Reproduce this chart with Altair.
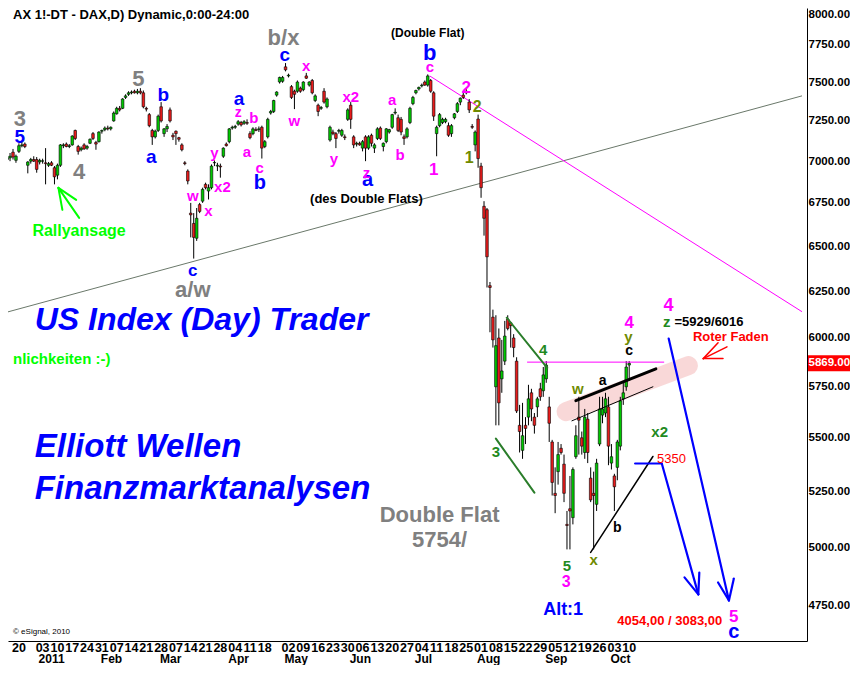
import altair as alt
import pandas as pd

FONT = "Liberation Sans"
START = -4  # first bar index (index 0 = 20 Dec 2010, trading-day index)

opens = [
    7010, 7020, 7055, 7005, 7060, 7095, 7105, 6975, 7000, 7010,
    7010, 6995, 7000, 6990, 6975, 6990, 6960, 6915, 6975, 7095,
    7105, 7090, 7100, 7190, 7090, 7070, 7100, 7080, 7110, 7170,
    7115, 7120, 7185, 7195, 7205, 7200, 7250, 7295, 7330, 7330,
    7400, 7420, 7430, 7440, 7430, 7440, 7430, 7330, 7290, 7190,
    7150, 7190, 7340, 7170, 7200, 7320, 7160, 7185, 7145, 7100,
    6990, 6940, 6690, 6630, 6545, 6740, 6760, 6860, 6820, 6840,
    6990, 6970, 6970, 7030, 7105, 7120, 7205, 7210, 7230, 7240,
    7235, 7240, 7170, 7170, 7195, 7195, 7210, 7090, 7150, 7300,
    7310, 7415, 7500, 7505, 7600, 7540, 7470, 7440, 7440, 7460,
    7450, 7540, 7480, 7510, 7380, 7350, 7330, 7440, 7340, 7130,
    7180, 7170, 7185, 7160, 7150, 7260, 7350, 7150, 7105, 7110,
    7080, 7150, 7080, 7160, 7080, 7140, 7205, 7090, 7120, 7180,
    7210, 7300, 7270, 7260, 7150, 7150, 7240, 7360, 7430, 7455,
    7475, 7500, 7480, 7510, 7430, 7170, 7220, 7240, 7245, 7220,
    7170, 7270, 7310, 7370, 7415, 7430, 7370, 7215, 7100, 7262,
    6970, 6730, 6710, 6280, 6110, 5750, 6000, 5790, 5880, 6100,
    6080, 6000, 5880, 5560, 5440, 5560, 5600, 5720, 5600, 5650,
    5740, 5730, 5790, 5650, 5480, 5240, 5340, 5450, 5375, 5100,
    5170, 5130, 5410, 5600, 5500, 5430, 5590, 5310, 5240, 5190,
    5470, 5610, 5620, 5650, 5380, 5320, 5360, 5460, 5690, 5750,
    5860,
]
highs = [
    7040, 7050, 7075, 7040, 7110, 7120, 7115, 7000, 7020, 7030,
    7025, 7015, 7015, 7080, 6995, 7000, 6970, 6985, 7105, 7110,
    7115, 7105, 7160, 7195, 7100, 7090, 7110, 7100, 7140, 7180,
    7125, 7185, 7195, 7215, 7220, 7215, 7310, 7340, 7345, 7395,
    7420, 7440, 7445, 7450, 7455, 7460, 7445, 7340, 7300, 7200,
    7195, 7290, 7370, 7205, 7230, 7335, 7175, 7190, 7150, 7110,
    7000, 6950, 6750, 6690, 6720, 6750, 6840, 6870, 6860, 6980,
    7005, 6990, 6985, 7085, 7115, 7205, 7220, 7225, 7255, 7250,
    7255, 7260, 7185, 7210, 7210, 7215, 7220, 7130, 7270, 7320,
    7385, 7440, 7535, 7540, 7625, 7555, 7480, 7450, 7510, 7470,
    7505, 7560, 7505, 7520, 7420, 7360, 7345, 7460, 7400, 7220,
    7195, 7180, 7200, 7200, 7165, 7330, 7370, 7160, 7120, 7120,
    7130, 7160, 7160, 7170, 7110, 7210, 7215, 7115, 7205, 7200,
    7295, 7330, 7290, 7275, 7165, 7210, 7340, 7410, 7450, 7470,
    7490, 7510, 7550, 7520, 7440, 7220, 7300, 7270, 7270, 7240,
    7230, 7300, 7370, 7400, 7440, 7460, 7390, 7230, 7190, 7290,
    6990, 6760, 6720, 6300, 6150, 6120, 6050, 5990, 6090, 6120,
    6085, 6020, 5900, 5660, 5670, 5600, 5760, 5740, 5620, 5700,
    5770, 5850, 5880, 5700, 5490, 5360, 5480, 5470, 5420, 5160,
    5320, 5360, 5560, 5700, 5530, 5640, 5620, 5360, 5340, 5400,
    5700, 5700, 5720, 5700, 5470, 5330, 5490, 5700, 5770, 5880,
    5880,
]
lows = [
    6985, 7000, 7010, 6990, 7050, 7085, 7080, 6926, 6985, 6995,
    6930, 6980, 6985, 6860, 6965, 6970, 6860, 6890, 6965, 7080,
    7085, 7080, 7095, 7130, 7040, 7060, 7070, 7070, 7105, 7130,
    7070, 7115, 7170, 7185, 7190, 7190, 7245, 7290, 7310, 7325,
    7390, 7410, 7420, 7425, 7420, 7420, 7330, 7310, 7210, 7100,
    7140, 7180, 7240, 7150, 7180, 7240, 7130, 7100, 7120, 7060,
    6975, 6860, 6550, 6430, 6530, 6690, 6750, 6830, 6770, 6830,
    6970, 6940, 6900, 7020, 7090, 7110, 7195, 7200, 7220, 7215,
    7225, 7225, 7135, 7160, 7185, 7180, 7016, 7080, 7140, 7290,
    7300, 7405, 7490, 7495, 7570, 7530, 7390, 7325, 7430, 7430,
    7440, 7520, 7470, 7420, 7370, 7280, 7320, 7360, 7330, 7120,
    7160, 7080, 7170, 7150, 7130, 7250, 7200, 7080, 7090, 7095,
    7060, 7000, 7070, 7090, 7050, 7130, 7130, 7060, 7110, 7170,
    7200, 7290, 7180, 7160, 7100, 7140, 7230, 7350, 7420, 7445,
    7465, 7475, 7470, 7430, 7250, 7030, 7210, 7230, 7235, 7150,
    7150, 7260, 7300, 7350, 7390, 7420, 7300, 7200, 7060, 6960,
    6780, 6560, 6270, 6030, 5950, 5560, 5560, 5720, 5860, 6040,
    5950, 5900, 5620, 5430, 5400, 5470, 5560, 5580, 5520, 5600,
    5680, 5700, 5770, 5480, 5230, 5150, 5280, 5420, 5200, 4990,
    4990, 5100, 5400, 5420, 5420, 5400, 5380, 5200, 4990, 5160,
    5460, 5570, 5600, 5370, 5350, 5160, 5300, 5440, 5660, 5730,
    5780,
]
closes = [
    7020, 7030, 7025, 7030, 7095, 7100, 7090, 6995, 7010, 7000,
    6950, 7005, 7002, 6985, 6985, 6975, 6905, 6975, 7100, 7100,
    7090, 7095, 7155, 7140, 7060, 7080, 7075, 7090, 7135, 7140,
    7105, 7180, 7190, 7205, 7200, 7210, 7300, 7330, 7320, 7390,
    7410, 7430, 7435, 7430, 7440, 7430, 7340, 7325, 7220, 7150,
    7185, 7280, 7250, 7200, 7215, 7250, 7150, 7170, 7135, 7070,
    6985, 6880, 6680, 6550, 6660, 6700, 6830, 6840, 6840, 6970,
    6992, 6975, 6965, 7080, 7095, 7200, 7210, 7215, 7245, 7225,
    7245, 7235, 7145, 7200, 7190, 7200, 7080, 7120, 7260, 7310,
    7380, 7435, 7530, 7530, 7580, 7545, 7400, 7420, 7500, 7440,
    7500, 7525, 7500, 7430, 7410, 7310, 7335, 7370, 7390, 7210,
    7170, 7140, 7190, 7190, 7145, 7320, 7260, 7100, 7110, 7100,
    7120, 7080, 7150, 7110, 7100, 7200, 7140, 7110, 7200, 7195,
    7290, 7305, 7190, 7180, 7140, 7200, 7330, 7400, 7445, 7465,
    7480, 7480, 7540, 7440, 7280, 7210, 7290, 7260, 7260, 7160,
    7220, 7295, 7360, 7395, 7400, 7440, 7320, 7210, 7180, 7016,
    6840, 6660, 6440, 6270, 5990, 5960, 5670, 5830, 6010, 6050,
    6065, 5950, 5630, 5530, 5510, 5545, 5690, 5640, 5560, 5690,
    5700, 5810, 5860, 5570, 5290, 5230, 5420, 5430, 5240, 5095,
    5160, 5350, 5510, 5585, 5460, 5600, 5430, 5210, 5230, 5380,
    5640, 5640, 5690, 5460, 5410, 5270, 5480, 5680, 5720, 5850,
    5869,
]

week_idx = [0, 8, 13, 18, 23, 28, 33, 38, 43, 48, 53, 58, 63, 68, 73, 78, 83,
            91, 96, 101, 106, 111, 116, 121, 126, 131, 136, 141, 146, 151,
            156, 161, 166, 171, 176, 181, 186, 191, 196, 201, 206]
week_lbl = ["20", "03", "10", "17", "24", "31", "07", "14", "21", "28", "07", "14", "21", "28",
            "04", "11", "18", "02", "09", "16", "23", "30", "06", "13", "20", "27", "04", "11",
            "18", "25", "01", "08", "15", "22", "29", "05", "12", "19", "26", "03", "10"]
month_idx = [8, 29, 49, 72, 91, 113, 135, 156, 179, 201]
month_lbl = ["2011", "Feb", "Mar", "Apr", "May", "Jun", "Jul", "Aug", "Sep", "Oct"]

y_ticks = [4750, 5000, 5250, 5500, 5750, 6000, 6250, 6500, 6750, 7000, 7250, 7500, 7750, 8000]
last_price = 5869.00

GRAY, BLUE, MAG = "#808080", "#0000ff", "#ff00ff"
DG, OL, BLK, RED = "#1f8a1f", "#6f8a00", "#000000", "#ff0000"

# centered bold labels: text, index, price, colour, size
lab_text = ["3", "5", "4", "b/x", "a/w", "Double Flat", "5754/",
            "5", "b", "a", "c", "a", "b", "c", "b", "a", "c", "Alt:1",
            "w", "x", "y", "x2", "z", "b", "a", "c", "x", "w", "x2", "y", "z", "a", "b",
            "1", "c", "2", "3", "4", "4", "5",
            "2", "1", "4", "3", "5", "w", "x", "y", "z", "x2",
            "(Double Flat)", "(des Double Flats)", "a", "c", "b",
            "Roter Faden", "4054,00 / 3083,00", "Rallyansage"]
lab_i = [0.33, 40.3, 20.3, 89.3, 58.7, 142, 142,
         0.33, 48.7, 44.7, 89.7, 74.3, 81.3, 58.7, 138.7, 117.7, 241.3, 183.7,
         58.7, 64, 66, 68.7, 74, 79.3, 77, 81.3, 97, 93, 112, 106.3, 117.3, 126, 128.7,
         140, 138.7, 151, 184.7, 206, 219.3, 241.3,
         154.7, 152, 177, 161, 185, 188.7, 194, 205.7, 218.7, 216.3,
         138, 117.3, 197, 206, 202,
         240.3, 219.7, 20.3]
lab_p = [7262, 7517, 6935, 7794, 6258, 5144, 5033,
         7150, 7416, 7026, 7679, 7390, 6869, 6362, 7693, 6885, 4642, 4735,
         6791, 6704, 7050, 6845, 7301, 7269, 7057, 6959, 7606, 7250, 7403, 7014, 6929, 7384, 7039,
         6947, 7599, 7462, 4852, 6080, 6170, 4706,
         7339, 7020, 5939, 5434, 4920, 5741, 4942, 6006, 6086, 5530,
         7828, 6774, 5781, 5934, 5086,
         6006, 4686, 6587]
lab_col = [GRAY] * 7 + [BLUE] * 11 + [MAG] * 22 + [OL, OL, DG, DG, DG, OL, OL, OL, DG, DG] + \
          [BLK] * 5 + [RED, RED, "#00ff00"]
lab_size = [22, 22, 22, 22, 22, 22, 22,
            19, 19, 19, 19, 19, 20, 17, 22, 20, 20, 18,
            15, 15, 15, 15, 14, 15, 15, 15, 15, 15, 15, 15, 15, 15, 15,
            17, 15, 17, 16, 17, 18, 17,
            16, 16, 15, 15, 15, 15, 15, 15, 15, 15,
            12, 13, 14, 14, 14,
            13, 13, 16]

# left-aligned bold texts
left_text = ["AX 1!-DT - DAX,D) Dynamic,0:00-24:00", "=5929/6016", "nlichkeiten :-)"]
left_i = [-2.0, 221.3, -2.0]
left_p = [7951, 6086, 5893]
left_col = [BLK, BLK, "#00ff00"]
left_size = [13, 13, 15]

# big italic headlines
big_text = ["US Index (Day) Trader", "Elliott Wellen", "Finanzmarktanalysen"]
big_i = [5.33, 5.33, 5.33]
big_p = [6096, 5458, 5262]
big_size = [32, 33, 33]

# line segments: i, p, i2, p2, colour, width
seg_i = [-4.667, 138.67, 171.67, 164.67, 161.0, 188.0, 186.67, 193.0,
         208.0, 217.0, 224.67, 229.67, 219.33, 236.0, 241.33,
         239.0, 236.0, 237.67, 20.33, 19.33, 14.67]
seg_p = [6134, 7540, 5875, 6107, 5496, 5681, 5582, 4977,
         5378, 5378, 4870, 4890, 5997, 4848, 4865,
         5954, 5975, 5893, 6662, 6768, 6709]
seg_i2 = [264.333, 264.333, 217.67, 178.33, 174.0, 215.0, 214.0, 214.0,
          217.0, 229.33, 229.33, 229.33, 239.67, 239.67, 239.67,
          231.0, 231.0, 231.0, 13.33, 13.33, 13.33]
seg_p2 = [7410, 6139, 5875, 5846, 5243, 5841, 5750, 5411,
          5378, 4798, 4798, 4798, 4773, 4773, 4773,
          5893, 5893, 5893, 6839, 6839, 6839]
seg_col = ["#6a786a", MAG, MAG, "#2a7d2a", "#2a7d2a", BLK, BLK, BLK,
           BLUE, BLUE, BLUE, BLUE, BLUE, BLUE, BLUE,
           RED, RED, RED, "#00ff00", "#00ff00", "#00ff00"]
seg_w = [1, 1, 1, 2, 2, 3, 1, 1.5,
         2.2, 2.2, 2.2, 2.2, 2.2, 2.2, 2.2,
         1.5, 1.5, 1.5, 2, 2, 2]

band = {"i": [184.67], "p": [5627], "i2": [226.0], "p2": [5857]}

# ---------------------------------------------------------------------------
n = len(opens)
assert n == len(highs) == len(lows) == len(closes) == 211
candles = pd.DataFrame({"i": list(range(START, START + n)), "o": opens, "h": highs,
                        "l": lows, "c": closes})
candles["dir"] = ["up" if c >= o else "down" for o, c in zip(opens, closes)]

labels = pd.DataFrame({"t": lab_text, "i": lab_i, "p": lab_p, "col": lab_col, "s": lab_size})
lefts = pd.DataFrame({"t": left_text, "i": left_i, "p": left_p, "col": left_col, "s": left_size})
bigs = pd.DataFrame({"t": big_text, "i": big_i, "p": big_p, "s": big_size})
segs = pd.DataFrame({"i": seg_i, "p": seg_p, "i2": seg_i2, "p2": seg_p2, "col": seg_col, "w": seg_w})
days = pd.DataFrame({"i": week_idx, "t": week_lbl})
months = pd.DataFrame({"i": month_idx, "t": month_lbl})
lastp = pd.DataFrame({"p": [last_price], "t": [f"{last_price:.2f}"]})
credit = pd.DataFrame({"i": [-2.0], "p": [4642], "t": ["© eSignal, 2010"]})

xscale = alt.Scale(domain=[-2.0, 264.333], nice=False, zero=False)
yscale = alt.Scale(type="log", domain=[4607, 8000], nice=False)
xaxis = alt.Axis(labels=False, ticks=False, grid=False, title=None, domainColor="black",
                 domainWidth=1)
yaxis = alt.Axis(orient="right", values=y_ticks, format=".2f", labelFont=FONT, labelFontSize=11.5,
                 labelFontWeight="bold", labelColor="black", ticks=False, grid=False, title=None,
                 domainColor="black", labelPadding=1, labelOverlap=False, labelFlush=True)


def X(f):
    return alt.X(f"{f}:Q", scale=xscale, axis=xaxis)


def Y(f):
    return alt.Y(f"{f}:Q", scale=yscale, axis=yaxis)


band_l = alt.Chart(pd.DataFrame(band)).mark_rule(
    strokeCap="round", opacity=0.45, color="#f2a8a8", strokeWidth=19
).encode(x=X("i"), y=Y("p"), x2="i2", y2="p2")

seg_under = alt.Chart(segs.iloc[:2]).mark_rule().encode(
    x=X("i"), y=Y("p"), x2="i2", y2="p2",
    color=alt.Color("col:N", scale=None), strokeWidth=alt.StrokeWidth("w:Q", scale=None))

wicks = alt.Chart(candles).mark_rule(color="black", strokeWidth=1).encode(
    x=X("i"), y=Y("l"), y2="h")
bodies = alt.Chart(candles).mark_bar(size=2.6, stroke="black", strokeWidth=0.6).encode(
    x=X("i"), y=Y("o"), y2="c",
    color=alt.Color("dir:N", scale=alt.Scale(domain=["up", "down"], range=["#00c800", "#e81c1c"]),
                    legend=None))

seg_over = alt.Chart(segs.iloc[2:]).mark_rule(strokeCap="round").encode(
    x=X("i"), y=Y("p"), x2="i2", y2="p2",
    color=alt.Color("col:N", scale=None), strokeWidth=alt.StrokeWidth("w:Q", scale=None))

lab_l = alt.Chart(labels).mark_text(font=FONT, fontWeight="bold", baseline="middle",
                                    align="center").encode(
    x=X("i"), y=Y("p"), text="t:N", color=alt.Color("col:N", scale=None),
    size=alt.Size("s:Q", scale=None))
left_l = alt.Chart(lefts).mark_text(font=FONT, fontWeight="bold", baseline="middle",
                                    align="left").encode(
    x=X("i"), y=Y("p"), text="t:N", color=alt.Color("col:N", scale=None),
    size=alt.Size("s:Q", scale=None))
big_l = alt.Chart(bigs).mark_text(font=FONT, fontWeight="bold", fontStyle="italic",
                                  baseline="middle", align="left", color="#0000ff").encode(
    x=X("i"), y=Y("p"), text="t:N", size=alt.Size("s:Q", scale=None))
red_5350 = alt.Chart(pd.DataFrame({"i": [220.3], "p": [5397], "t": ["5350"]})).mark_text(
    font=FONT, fontSize=13, color="#ff0000", baseline="middle", align="center").encode(
    x=X("i"), y=Y("p"), text="t:N")
credit_l = alt.Chart(credit).mark_text(font=FONT, fontSize=8, color="black", align="left",
                                       baseline="middle").encode(x=X("i"), y=Y("p"), text="t:N")

box = alt.Chart(lastp).mark_point(
    shape="M-1,-0.38L1,-0.38L1,0.38L-1,0.38Z", filled=True, opacity=1, color="#ff0000",
    size=1764, strokeWidth=0).encode(x=alt.value(821), y=Y("p"))
box_t = alt.Chart(lastp).mark_text(font=FONT, fontSize=11.5, fontWeight="bold", color="white",
                                   align="left", baseline="middle").encode(
    x=alt.value(800.5), y=Y("p"), text="t:N")

day_l = alt.Chart(days).mark_text(font=FONT, fontSize=12.5, fontWeight="bold", color="black",
                                  align="center", baseline="middle").encode(
    x=X("i"), y=alt.value(640), text="t:N")
mon_l = alt.Chart(months).mark_text(font=FONT, fontSize=12, fontWeight="bold", color="black",
                                    align="left", baseline="middle", dx=-4).encode(
    x=X("i"), y=alt.value(651), text="t:N")

chart = alt.layer(
    band_l, seg_under, wicks, bodies, seg_over, lab_l, left_l, big_l, red_5350, credit_l,
    box, box_t, day_l, mon_l
).properties(
    width=799, height=633,
    padding={"left": 0, "top": 0, "right": 43, "bottom": 24},
    autosize=alt.AutoSizeParams(type="none"),
    background="white",
).configure_view(stroke=None)

chart.save("out.html", embed_options={"renderer": "svg", "actions": False})
